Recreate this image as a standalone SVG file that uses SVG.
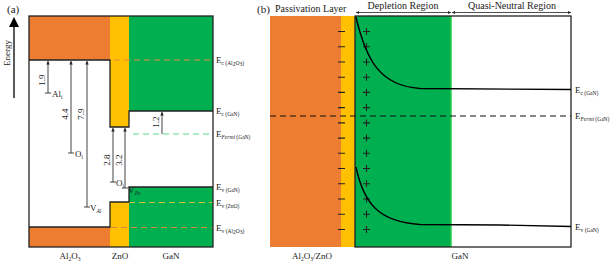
<svg xmlns="http://www.w3.org/2000/svg" width="616" height="262" viewBox="0 0 616 262">
<style>
text{font-family:"Liberation Serif","Times New Roman",serif;fill:#222}
.t{font-size:10px}
.lab{font-size:9px}
.s{font-size:5.5px}
.num{font-size:9px}
.ol{fill:none;stroke:#222;stroke-width:1.3}
.ar{stroke:#444;stroke-width:1;fill:none;marker-start:url(#ah)}
.tick{stroke:#444;stroke-width:1}
.or{fill:#ED7D31}
.ye{fill:#FFC000}
.gr{fill:#00B050}
.pm{stroke:#222;stroke-width:1.1}
</style>
<defs>
<marker id="ah" viewBox="0 0 6 6" refX="6" refY="3" markerWidth="3.5" markerHeight="3.5" orient="auto-start-reverse"><path d="M0,0 L6,3 L0,6 z" fill="#222"/></marker>
<marker id="big" viewBox="0 0 10 10" refX="8" refY="5" markerWidth="8" markerHeight="8" orient="auto"><path d="M0,0 L10,5 L0,10 z" fill="#000"/></marker>
<marker id="hd" viewBox="0 0 6 6" refX="6" refY="3" markerWidth="4" markerHeight="4" orient="auto-start-reverse"><path d="M0,0 L6,3 L0,6 z" fill="#222"/></marker>
</defs>
<rect width="616" height="262" fill="#fff"/>

<!-- Panel (a) -->
<g id="panel-a">
<text x="7" y="13" style="font-size:11px">(a)</text>
<line x1="14" y1="98" x2="14" y2="19" stroke="#000" stroke-width="1.3" marker-end="url(#big)"/>
<text transform="translate(10,53) rotate(-90)" class="lab" text-anchor="middle">Energy</text>

<g id="al2o3-a">
<rect class="or" x="29" y="16" width="81" height="44"/>
<rect class="or" x="29" y="227" width="81" height="20"/>
</g>
<g id="zno-a">
<rect class="ye" x="110" y="16" width="19" height="111"/>
<rect class="ye" x="110" y="202" width="19" height="45"/>
</g>
<g id="gan-a">
<rect class="gr" x="129" y="16" width="84" height="95"/>
<rect class="gr" x="129" y="187" width="84" height="60"/>
</g>
<g id="levels-a" fill="none" stroke-width="1.2" stroke-dasharray="6,4">
<line x1="104" y1="60" x2="213" y2="60" stroke="#E98A4A"/>
<line x1="133" y1="134" x2="213" y2="134" stroke="#5CD890"/>
<line x1="129" y1="202.5" x2="213" y2="202.5" stroke="#C9C232"/>
<line x1="111" y1="227.5" x2="213" y2="227.5" stroke="#D08A3A"/>
</g>
<g id="outline-a">
<rect class="ol" x="29" y="16" width="184" height="231"/>
<path class="ol" d="M29,60 H110 V127 H129 V111 H213"/>
<path class="ol" d="M29,227 H110 V202 H129 V187 H213"/>
</g>
<g id="connectors-a">
<line class="ar" x1="48" y1="61" x2="48" y2="93"/><line class="tick" x1="45" y1="93" x2="51" y2="93"/>
<line class="ar" x1="71" y1="61" x2="71" y2="153"/><line class="tick" x1="68" y1="153" x2="74" y2="153"/>
<line class="ar" x1="87" y1="61" x2="87" y2="207"/><line class="tick" x1="84" y1="207" x2="90" y2="207"/>
<line class="ar" x1="113" y1="128" x2="113" y2="182"/><line class="tick" x1="110" y1="182" x2="116" y2="182"/>
<line class="ar" x1="125" y1="128" x2="125" y2="188"/><line class="tick" x1="122" y1="188" x2="128" y2="188"/>
<line class="ar" x1="162" y1="112" x2="162" y2="134"/>
</g>
<g id="labels-a">
<text class="num" transform="translate(45,80) rotate(-90)" text-anchor="middle">1.9</text>
<text class="num" transform="translate(68,114) rotate(-90)" text-anchor="middle">4.4</text>
<text class="num" transform="translate(84,114) rotate(-90)" text-anchor="middle">7.9</text>
<text class="num" transform="translate(110,160) rotate(-90)" text-anchor="middle">2.8</text>
<text class="num" transform="translate(122,160) rotate(-90)" text-anchor="middle">3.2</text>
<text class="num" transform="translate(159,122) rotate(-90)" text-anchor="middle">1.2</text>
<text class="lab" x="52" y="97">Al<tspan class="s" dy="1.5">i</tspan></text>
<text class="lab" x="75" y="157">O<tspan class="s" dy="1.5">i</tspan></text>
<text class="lab" x="90" y="211">V<tspan class="s" dy="1.5" font-style="italic">Al</tspan></text>
<text class="lab" x="116" y="186">O<tspan class="s" dy="1.5">i</tspan></text>
<text class="lab" x="128" y="193">V<tspan class="s" dy="1.5" font-style="italic">Zn</tspan></text>

<text class="lab" x="216" y="63">E<tspan class="s" dy="1.5">c (Al<tspan dy="1">2</tspan><tspan dy="-1">O</tspan><tspan dy="1">3</tspan><tspan dy="-1">)</tspan></tspan></text>
<text class="lab" x="216" y="114">E<tspan class="s" dy="1.5">c (GaN)</tspan></text>
<text class="lab" x="216" y="137">E<tspan class="s" dy="1.5"><tspan font-style="italic">Fermi</tspan> (GaN)</tspan></text>
<text class="lab" x="216" y="190">E<tspan class="s" dy="1.5">v (GaN)</tspan></text>
<text class="lab" x="216" y="206">E<tspan class="s" dy="1.5">v (ZnO)</tspan></text>
<text class="lab" x="216" y="231">E<tspan class="s" dy="1.5">v (Al<tspan dy="1">2</tspan><tspan dy="-1">O</tspan><tspan dy="1">3</tspan><tspan dy="-1">)</tspan></tspan></text>

<text class="lab" x="70" y="259" text-anchor="middle">Al<tspan class="s" dy="1.5">2</tspan><tspan dy="-1.5">O</tspan><tspan class="s" dy="1.5">3</tspan></text>
<text class="lab" x="120" y="259" text-anchor="middle">ZnO</text>
<text class="lab" x="171" y="259" text-anchor="middle">GaN</text>
</g>
</g>

<!-- Panel (b) -->
<g id="panel-b">
<text x="257" y="13" style="font-size:11px">(b)</text>
<text class="t" x="275" y="12">Passivation Layer</text>
<g id="passivation-b">
<rect class="or" x="270" y="16" width="71" height="231"/>
<rect class="ye" x="341" y="16" width="14" height="231"/>
</g>
<g id="gan-b">
<rect class="gr" x="355" y="16" width="96" height="231"/>
<line x1="451" y1="16" x2="451" y2="247" stroke="#22D044" stroke-width="1.5"/>
<rect class="ol" x="355" y="16" width="216" height="231"/>
</g>
<g id="charges-b">
<path class="pm" d="M338,31.5h7M338,46.7h7M338,62h7M338,77.2h7M338,92.4h7M338,107.6h7M338,122.9h7M338,138.1h7M338,153.3h7M338,168.5h7M338,183.8h7M338,199h7M338,214.2h7M338,229.5h7"/>
<path class="pm" d="M363,31.5h7M366.5,28v7M363,46.7h7M366.5,43.2v7M363,62h7M366.5,58.5v7M363,77.2h7M366.5,73.7v7M363,92.4h7M366.5,88.9v7M363,107.6h7M366.5,104.1v7M363,122.9h7M366.5,119.4v7M363,138.1h7M366.5,134.6v7M363,153.3h7M366.5,149.8v7M363,168.5h7M366.5,165v7M363,183.8h7M366.5,180.3v7M363,199h7M366.5,195.5v7M363,214.2h7M366.5,210.7v7M363,229.5h7M366.5,226v7"/>
</g>
<g id="connectors-b">
<line x1="270" y1="116" x2="571" y2="116" stroke="#111" stroke-width="1.2" stroke-dasharray="6,4"/>
<path d="M356,17 C366,60 380,86 420,88.5 L571,89.5" fill="none" stroke="#000" stroke-width="1.4"/>
<path d="M356,167 C364,205 380,222 420,224.5 L500,225 L571,226.5" fill="none" stroke="#000" stroke-width="1.4"/>
<line x1="356" y1="12.5" x2="451" y2="12.5" stroke="#222" stroke-width="0.8" marker-start="url(#hd)" marker-end="url(#hd)"/>
<line x1="452" y1="12.5" x2="571" y2="12.5" stroke="#222" stroke-width="0.8" marker-start="url(#hd)" marker-end="url(#hd)"/>
</g>
<g id="labels-b">
<text class="t" x="403" y="9" text-anchor="middle">Depletion Region</text>
<text class="t" x="512" y="9" text-anchor="middle">Quasi-Neutral Region</text>
<text class="lab" x="575" y="93">E<tspan class="s" dy="1.5">c (GaN)</tspan></text>
<text class="lab" x="575" y="119">E<tspan class="s" dy="1.5"><tspan font-style="italic">Fermi</tspan> (GaN)</tspan></text>
<text class="lab" x="575" y="230">E<tspan class="s" dy="1.5">v (GaN)</tspan></text>
<text class="lab" x="312" y="259" text-anchor="middle">Al<tspan class="s" dy="1.5">2</tspan><tspan dy="-1.5">O</tspan><tspan class="s" dy="1.5">3</tspan><tspan dy="-1.5">/ZnO</tspan></text>
<text class="lab" x="460" y="259" text-anchor="middle">GaN</text>
</g>
</g>
</svg>
